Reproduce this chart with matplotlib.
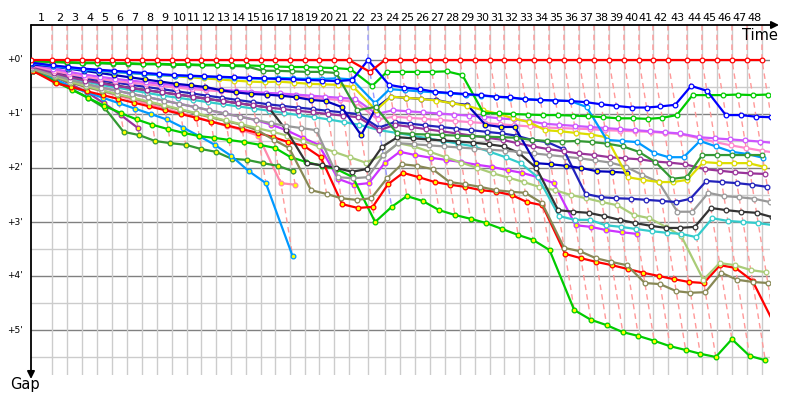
import matplotlib
matplotlib.use("Agg")
from matplotlib import pyplot as plt
from matplotlib.transforms import blended_transform_factory
import numpy as np

## Leader lap times (seconds), lap 1 .. 48
lap_times = [145, 103.5, 103.5, 103.5, 103.5, 103.5, 103.5, 103.5, 103.5, 103.5,
             96.6, 103.5, 103.5, 103.5, 103.5, 96.6, 103.5, 103.5, 96.6, 103.5,
             103.5, 131, 117, 103.5, 103.5, 103.5, 103.5, 103.5, 103.5, 103.5,
             96.6, 103.5, 103.5, 103.5, 103.5, 103.5, 103.5, 103.5, 103.5, 103.5,
             96.6, 103.5, 131, 103.5, 103.5, 103.5, 103.5, 103.5]

## Gap to leader (minutes), index = lap number (0 = grid)
red_w = [0, 0, 0, 0, 0, 0, 0, 0, 0, 0, 0, 0, 0, 0, 0, 0, 0, 0, 0, 0,
         0, 0, 0.22, 0, 0, 0, 0, 0, 0, 0, 0, 0, 0, 0, 0, 0, 0, 0, 0, 0,
         0, 0, 0, 0, 0, 0, 0, 0, 0]
green_w = [0.02, 0.03, 0.04, 0.05, 0.05, 0.06, 0.06, 0.07, 0.07, 0.08,
           0.08, 0.09, 0.09, 0.10, 0.10, 0.11, 0.12, 0.13, 0.13, 0.14,
           0.15, 0.17, 0.48, 0.22, 0.22, 0.22, 0.22, 0.21, 0.28, 0.98,
           0.99, 1.00, 1.01, 1.02, 1.02, 1.03, 1.04, 1.06, 1.08, 1.08,
           1.09, 1.07, 1.02, 0.65, 0.65, 0.65, 0.64, 0.65, 0.64]
dkgreen_w = [0.02, 0.04, 0.05, 0.06, 0.06, 0.07, 0.07, 0.08, 0.08, 0.09,
             0.09, 0.10, 0.10, 0.11, 0.12, 0.20, 0.20, 0.21, 0.22, 0.22,
             0.24, 0.93, 0.87, 1.35, 1.37, 1.38, 1.39, 1.40, 1.41, 1.42,
             1.43, 1.44, 1.48, 1.50, 1.51, 1.50, 1.52, 1.55, 1.60, 1.70,
             1.89, 2.20, 2.17, 1.76, 1.76, 1.76, 1.76, 1.76]
blue_w = [0.05, 0.10, 0.13, 0.16, 0.18, 0.20, 0.22, 0.24, 0.26, 0.28,
          0.29, 0.30, 0.31, 0.32, 0.33, 0.34, 0.35, 0.36, 0.37, 0.38,
          0.39, 0.37, 0.00, 0.46, 0.51, 0.54, 0.59, 0.61, 0.63, 0.65,
          0.68, 0.69, 0.73, 0.74, 0.75, 0.76, 0.78, 0.82, 0.85, 0.88,
          0.88, 0.86, 0.83, 0.48, 0.57, 1.02, 1.02, 1.05, 1.06]
ltblue_w = [0.06, 0.11, 0.15, 0.18, 0.20, 0.22, 0.24, 0.26, 0.28, 0.29,
            0.30, 0.31, 0.32, 0.33, 0.34, 0.35, 0.33, 0.34, 0.35, 0.35,
            0.34, 0.36, 0.80, 0.54, 0.56, 0.58, 0.60, 0.62, 0.64, 0.66,
            0.68, 0.70, 0.72, 0.74, 0.75, 0.76, 0.87, 1.48, 1.50, 1.52,
            1.72, 1.80, 1.80, 1.50, 1.60, 1.70, 1.74, 1.81]
yellow_w = [0.05, 0.10, 0.14, 0.17, 0.20, 0.22, 0.24, 0.26, 0.28, 0.30,
            0.32, 0.34, 0.36, 0.38, 0.40, 0.41, 0.40, 0.42, 0.44, 0.45,
            0.46, 0.50, 0.93, 0.68, 0.70, 0.72, 0.75, 0.80, 0.85, 0.93,
            1.00, 1.08, 1.15, 1.30, 1.32, 1.35, 1.38, 1.43, 2.17, 2.22,
            2.26, 2.26, 2.22, 1.89, 1.91, 1.91, 1.91, 1.98]
navy_y = [0.08, 0.12, 0.16, 0.20, 0.24, 0.28, 0.32, 0.36, 0.40, 0.44,
          0.47, 0.50, 0.56, 0.60, 0.63, 0.64, 0.66, 0.69, 0.74, 0.76,
          0.87, 1.39, 0.89, 0.68, 0.70, 0.72, 0.74, 0.80, 0.83, 1.20,
          1.24, 1.24, 1.91, 1.93, 1.96, 2.00, 2.06, 2.07, 2.09]
violet_w = [0.08, 0.16, 0.22, 0.27, 0.31, 0.35, 0.38, 0.41, 0.44, 0.47,
            0.50, 0.52, 0.55, 0.57, 0.59, 0.61, 0.62, 0.64, 0.66, 0.68,
            0.70, 0.72, 1.00, 0.93, 0.95, 0.97, 0.99, 1.01, 1.03, 1.05,
            1.08, 1.10, 1.13, 1.18, 1.20, 1.22, 1.24, 1.26, 1.28, 1.30,
            1.32, 1.34, 1.36, 1.43, 1.45, 1.47, 1.49, 1.51, 1.54]
pink_w = [0.10, 0.20, 0.26, 0.31, 0.35, 0.39, 0.42, 0.45, 0.48, 0.51,
          0.54, 0.56, 0.58, 0.60, 0.62, 0.64, 0.66, 0.68, 0.70, 0.72,
          0.74, 0.78, 1.10, 1.05, 1.07, 1.09, 1.11, 1.13, 1.15, 1.17,
          1.19, 1.21, 1.23, 1.25, 1.26, 1.27, 1.28, 1.30, 1.31, 1.32,
          1.33, 1.35, 1.37, 1.45, 1.52, 1.58, 1.63, 1.68, 1.72]
purple_w = [0.12, 0.24, 0.32, 0.38, 0.43, 0.48, 0.52, 0.56, 0.60, 0.64,
            0.68, 0.72, 0.76, 0.80, 0.84, 0.88, 0.91, 0.94, 0.97, 1.00,
            1.03, 1.06, 1.30, 1.20, 1.24, 1.28, 1.32, 1.36, 1.40, 1.44,
            1.48, 1.54, 1.60, 1.65, 1.69, 1.73, 1.76, 1.80, 1.82, 1.84,
            1.88, 1.90, 1.93, 2.02, 2.05, 2.08, 2.10, 2.11]
navy_w = [0.10, 0.20, 0.27, 0.33, 0.38, 0.42, 0.46, 0.50, 0.54, 0.58,
          0.62, 0.66, 0.70, 0.74, 0.78, 0.82, 0.85, 0.88, 0.91, 0.94,
          0.97, 1.00, 1.25, 1.15, 1.18, 1.21, 1.24, 1.27, 1.30, 1.33,
          1.36, 1.40, 1.48, 1.52, 1.65, 2.48, 2.54, 2.56, 2.57, 2.59,
          2.61, 2.63, 2.57, 2.24, 2.26, 2.28, 2.31, 2.35]
gray_w = [0.15, 0.28, 0.37, 0.44, 0.51, 0.57, 0.63, 0.69, 0.75, 0.81,
          0.87, 0.93, 0.99, 1.05, 1.11, 1.17, 1.22, 1.26, 1.30, 2.17,
          2.19, 2.17, 1.76, 1.54, 1.56, 1.58, 1.60, 1.62, 1.64, 1.66,
          1.68, 1.70, 1.73, 1.76, 1.79, 1.82, 1.86, 1.90, 1.98, 2.13,
          2.26, 2.81, 2.81, 2.46, 2.52, 2.54, 2.57, 2.63]
black_w = [0.12, 0.22, 0.30, 0.36, 0.42, 0.47, 0.52, 0.56, 0.60, 0.64,
           0.68, 0.72, 0.76, 0.80, 0.84, 0.88, 1.30, 1.91, 1.95, 2.00,
           2.07, 2.02, 1.61, 1.43, 1.45, 1.47, 1.49, 1.51, 1.53, 1.56,
           1.60, 1.72, 2.00, 2.78, 2.81, 2.83, 2.89, 2.96, 3.02, 3.07,
           3.11, 3.11, 3.09, 2.74, 2.78, 2.81, 2.83, 2.91]
cyan_w = [0.14, 0.26, 0.34, 0.40, 0.46, 0.51, 0.56, 0.61, 0.66, 0.70,
          0.74, 0.78, 0.82, 0.86, 0.90, 0.94, 0.98, 1.02, 1.06, 1.10,
          1.15, 1.20, 1.30, 1.35, 1.40, 1.45, 1.50, 1.55, 1.60, 1.70,
          1.80, 1.91, 2.17, 2.89, 2.96, 2.96, 3.06, 3.09, 3.13, 3.17,
          3.20, 3.22, 3.28, 2.93, 2.98, 3.00, 3.02, 3.06]
ygreen_w = [0.16, 0.30, 0.40, 0.48, 0.56, 0.63, 0.70, 0.77, 0.84, 0.91,
            0.98, 1.05, 1.12, 1.19, 1.26, 1.33, 1.40, 1.50, 1.60, 1.70,
            1.80, 1.90, 1.76, 1.54, 1.60, 1.70, 1.80, 1.90, 2.00, 2.10,
            2.18, 2.26, 2.35, 2.41, 2.50, 2.56, 2.63, 2.69, 2.87, 2.93,
            3.09, 3.26, 4.07, 3.76, 3.80, 3.89, 3.93]
olive_w = [0.17, 0.32, 0.42, 0.50, 0.57, 0.64, 0.71, 0.78, 0.85, 0.92,
           0.99, 1.06, 1.13, 1.20, 1.30, 1.48, 1.63, 2.41, 2.48, 2.56,
           2.59, 2.56, 2.19, 1.93, 1.96, 2.02, 2.26, 2.30, 2.35, 2.41,
           2.44, 2.46, 2.65, 3.48, 3.54, 3.67, 3.74, 3.80, 4.13, 4.15,
           4.28, 4.31, 4.30, 3.94, 4.07, 4.11, 4.13]
red_y = [0.20, 0.43, 0.50, 0.58, 0.65, 0.72, 0.79, 0.86, 0.93, 1.00,
         1.07, 1.14, 1.21, 1.28, 1.35, 1.43, 1.52, 1.59, 1.80, 2.67,
         2.74, 2.72, 2.30, 2.09, 2.17, 2.26, 2.31, 2.35, 2.41, 2.44,
         2.50, 2.63, 2.69, 3.59, 3.67, 3.74, 3.80, 3.87, 3.94, 4.00,
         4.06, 4.11, 4.13, 3.80, 3.85, 4.09, 4.90]
green_y = [0.20, 0.40, 0.55, 0.70, 0.85, 0.98, 1.10, 1.20, 1.28, 1.35,
           1.41, 1.44, 1.48, 1.52, 1.57, 1.63, 1.80, 1.89, 1.96, 2.02,
           2.17, 3.00, 2.72, 2.52, 2.61, 2.78, 2.87, 2.94, 3.02, 3.13,
           3.24, 3.33, 3.52, 4.63, 4.81, 4.91, 5.04, 5.11, 5.20, 5.30,
           5.37, 5.44, 5.50, 5.17, 5.48, 5.56]
ltblue_y = [0.20, 0.35, 0.50, 0.60, 0.70, 0.80, 0.90, 1.00, 1.10, 1.25,
            1.41, 1.57, 1.78, 2.06, 2.28, 3.63]
dkgreen_y = [0.20, 0.37, 0.54, 0.70, 0.89, 1.33, 1.39, 1.50, 1.54, 1.57,
             1.65, 1.70, 1.83, 1.85, 1.91, 1.96, 2.06]
pink_y = [0.18, 0.30, 0.40, 0.50, 0.58, 0.66, 0.74, 0.82, 0.90, 0.98,
          1.06, 1.14, 1.22, 1.30, 1.40, 2.28, 2.31]
violet_y = [0.16, 0.30, 0.38, 0.45, 0.51, 0.57, 0.63, 0.69, 0.75, 0.81,
            0.87, 0.93, 0.99, 1.05, 1.11, 1.20, 1.30, 1.44, 1.57, 2.20,
            2.31, 2.28, 1.91, 1.70, 1.76, 1.81, 1.85, 1.89, 1.94, 1.98,
            2.04, 2.09, 2.17, 2.28, 3.06, 3.09, 3.15, 3.19, 3.22]
purple_y = [0.15, 0.30, 0.45, 0.60, 0.80, 1.02, 1.26]

## (gaps, line colour, marker face)
drivers = [
    (red_w, '#ff0000', 'white'),
    (blue_w, '#0000ff', 'white'),
    (green_w, '#00cc00', 'white'),
    (dkgreen_w, '#339933', 'white'),
    (ltblue_w, '#0099ff', 'white'),
    (yellow_w, '#dddd00', 'white'),
    (navy_y, '#0000bb', '#ffff00'),
    (violet_w, '#cc55ff', 'white'),
    (pink_w, '#ff88cc', 'white'),
    (purple_w, '#993399', 'white'),
    (navy_w, '#2222bb', 'white'),
    (gray_w, '#999999', 'white'),
    (black_w, '#333333', 'white'),
    (cyan_w, '#33cccc', 'white'),
    (ygreen_w, '#aacc77', 'white'),
    (olive_w, '#888855', 'white'),
    (red_y, '#ff0000', '#ffff00'),
    (green_y, '#00cc00', '#ffff00'),
    (ltblue_y, '#0099ff', '#ffff00'),
    (dkgreen_y, '#339933', '#ffff00'),
    (pink_y, '#ff88aa', '#ffff00'),
    (violet_y, '#cc33ff', '#ffff00'),
    (purple_y, '#993399', '#ffff00'),
]

W, H = 800, 400
X0, X1, Y0, Y1 = 31, 770, 25, 375     # plot box in pixels
SEC_PER_PX = 6.9
PX_PER_MIN = 54.0
Y_ZERO = 60

cum = np.concatenate([[0.0], np.cumsum(lap_times)])
nlaps = len(lap_times)

fig = plt.figure(figsize=(W / 100, H / 100), dpi=100)
ax = fig.add_axes([X0 / W, 1 - Y1 / H, (X1 - X0) / W, (Y1 - Y0) / H])
ax.set_xlim(0, (X1 - X0) * SEC_PER_PX)
ytop = (Y0 - Y_ZERO) / PX_PER_MIN
ybot = (Y1 - Y_ZERO) / PX_PER_MIN
ax.set_ylim(ybot, ytop)
ax.axis('off')

## grid
for g in np.arange(0, 6, 0.5):
    ax.axhline(g, color='#808080' if g % 1 == 0 else '#cccccc', lw=1, zorder=0)
for n in range(1, nlaps + 1):
    ax.axvline(cum[n], color='#cccccc', lw=1, zorder=0)


def lighten(c, f=0.7):
    rgb = np.array(matplotlib.colors.to_rgb(c))
    return tuple(rgb + (1 - rgb) * f)


## lap lines (same lap for every car)
for n in range(1, nlaps + 1):
    gs = [(d[0][n], d[1]) for d in drivers if len(d[0]) > n]
    gmax = max(g for g, c in gs)
    lead_col = min(gs, key=lambda t: t[0])[1]
    ax.plot([cum[n], cum[n], cum[n] + 60 * gmax], [ytop, 0, gmax],
            ls=(0, (4, 3)), lw=1, color=lighten(lead_col, 0.6), zorder=1)

## cars
for i, (gaps, col, face) in enumerate(reversed(drivers)):
    gaps = np.array(gaps, dtype=float)
    laps = np.arange(len(gaps))
    x = cum[laps] + 60 * gaps
    ax.plot(x, gaps, '-o', color=col, lw=1.6, ms=3.4, mfc=face, mec=col,
            mew=0.9, zorder=2 + i)

## axes with arrows
ax.annotate('', xy=((779 - X0) / (X1 - X0), 1), xytext=(0, 1),
            xycoords='axes fraction', annotation_clip=False,
            arrowprops=dict(arrowstyle='-|>', color='black', lw=1.3,
                            mutation_scale=11, shrinkA=0, shrinkB=0))
ax.annotate('', xy=(0, -(379 - Y1) / (Y1 - Y0)), xytext=(0, 1),
            xycoords='axes fraction', annotation_clip=False,
            arrowprops=dict(arrowstyle='-|>', color='black', lw=1.3,
                            mutation_scale=11, shrinkA=0, shrinkB=0))

fig.text(778 / W, 1 - 35 / H, 'Time', ha='right', va='center', fontsize=10.5)
fig.text(25 / W, 1 - 385 / H, 'Gap', ha='center', va='center', fontsize=10.5)

ytrans = blended_transform_factory(fig.transFigure, ax.transData)
for i in range(6):
    ax.text(23 / W, i, "+%d'" % i, ha='right', va='center', fontsize=6.5,
            transform=ytrans, clip_on=False)

xtrans = blended_transform_factory(ax.transData, fig.transFigure)
for n in range(1, nlaps + 1):
    ax.text((cum[n - 1] + cum[n]) / 2, 1 - 18 / H, str(n), ha='center',
            va='center', fontsize=8, transform=xtrans, clip_on=False)

fig.savefig('out.png', dpi=100)
